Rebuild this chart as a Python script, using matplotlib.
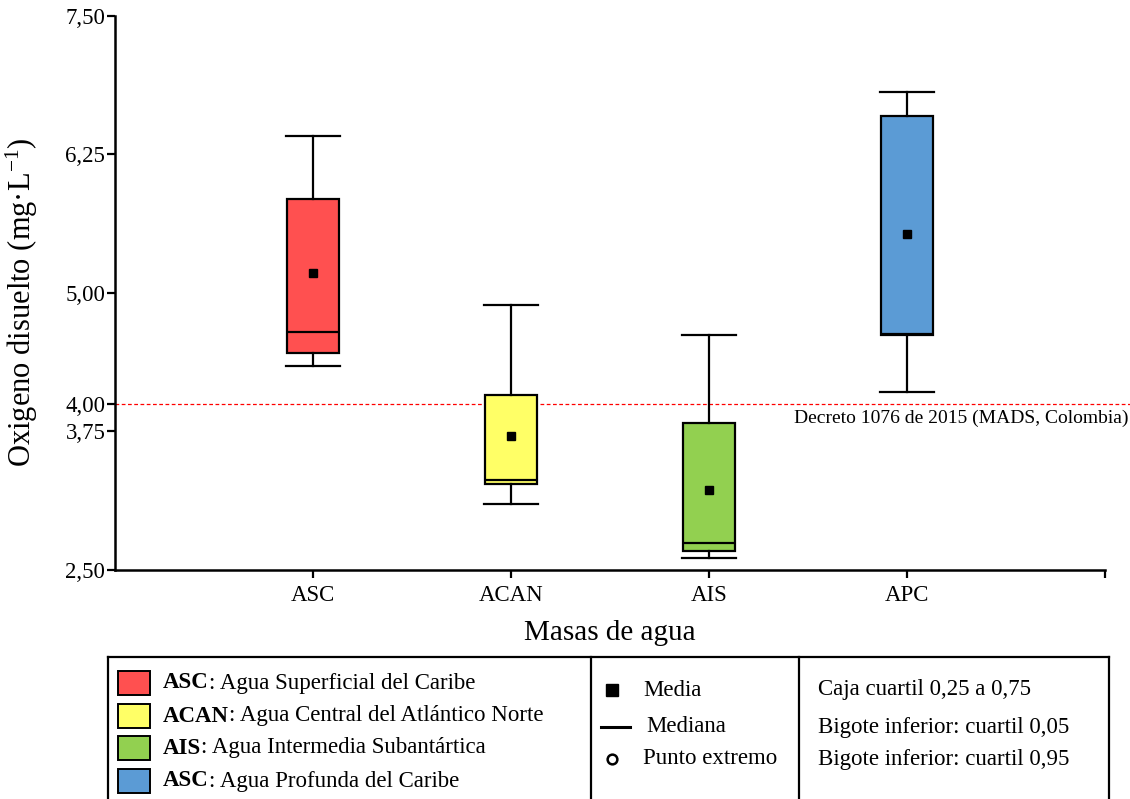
import matplotlib
matplotlib.use("Agg")
import matplotlib.pyplot as plt
from matplotlib.patches import Rectangle
from matplotlib.lines import Line2D

# ----------------------------
# Data
# ----------------------------
masses = ["ASC", "ACAN", "AIS", "APC"]
q05 = [4.34, 3.10, 2.61, 4.11]
q25 = [4.46, 3.28, 2.67, 4.62]
medians = [4.65, 3.31, 2.74, 4.63]
means = [5.18, 3.71, 3.22, 5.53]
q75 = [5.85, 4.08, 3.83, 6.60]
q95 = [6.42, 4.89, 4.62, 6.81]
colors = ["#FF5050", "#FFFF66", "#92D050", "#5B9BD5"]

yticks = [2.50, 3.75, 4.00, 5.00, 6.25, 7.50]
ytick_labels = ["2,50", "3,75", "4,00", "5,00", "6,25", "7,50"]
threshold = 4.0
threshold_label = "Decreto 1076 de 2015 (MADS, Colombia)"

legend_names = [
    ("ASC", ": Agua Superficial del Caribe"),
    ("ACAN", ": Agua Central del Atlántico Norte"),
    ("AIS", ": Agua Intermedia Subantártica"),
    ("ASC", ": Agua Profunda del Caribe"),
]
legend_marks = ["Media", "Mediana", "Punto extremo"]
legend_notes = ["Caja cuartil 0,25 a 0,75",
                "Bigote inferior: cuartil 0,05",
                "Bigote inferior: cuartil 0,95"]

# ----------------------------
# Style
# ----------------------------
plt.rcParams["font.family"] = "Liberation Serif"
plt.rcParams["mathtext.fontset"] = "custom"
plt.rcParams["mathtext.rm"] = "Liberation Serif"
plt.rcParams["mathtext.it"] = "Liberation Serif:italic"

W, H = 1130, 799
fig = plt.figure(figsize=(W / 100, H / 100), dpi=100)


def fx(x):
    return x / W


def fy(y):
    return 1 - y / H


ax = fig.add_axes([fx(115), fy(570), fx(1105) - fx(115), fy(16) - fy(570)])

stats = []
for i, name in enumerate(masses):
    stats.append({
        "label": name,
        "whislo": q05[i],
        "q1": q25[i],
        "med": medians[i],
        "q3": q75[i],
        "whishi": q95[i],
        "mean": means[i],
        "fliers": [],
    })

positions = list(range(1, len(masses) + 1))
bp = ax.bxp(
    stats,
    positions=positions,
    widths=0.26,
    patch_artist=True,
    showmeans=True,
    showfliers=False,
    boxprops=dict(linewidth=1.6, edgecolor="black"),
    medianprops=dict(color="black", linewidth=1.6),
    whiskerprops=dict(color="black", linewidth=1.6),
    capprops=dict(color="black", linewidth=1.6),
    capwidths=0.27,
    meanprops=dict(marker="s", markerfacecolor="black", markeredgecolor="black", markersize=6),
)
for patch, c in zip(bp["boxes"], colors):
    patch.set_facecolor(c)

# reference line
ax.plot([0, 5.13], [threshold, threshold], color="red", linestyle=(0, (3, 2)),
        linewidth=0.9, clip_on=False, zorder=1)
ax.text(5.12, threshold - 0.05, threshold_label, ha="right", va="top", fontsize=14)

ax.set_xlim(0, 5)
ax.set_ylim(2.5, 7.5)
ax.set_xticks([1, 2, 3, 4, 5])
ax.set_xticklabels(masses + [""], fontsize=16.5)
ax.set_yticks(yticks)
ax.set_yticklabels(ytick_labels, fontsize=16.5)
ax.tick_params(axis="both", direction="out", length=6, width=1.6, pad=5)
ax.tick_params(axis="y", pad=1)
for s in ["top", "right"]:
    ax.spines[s].set_visible(False)
for s in ["left", "bottom"]:
    ax.spines[s].set_linewidth(1.8)

ax.set_xlabel("Masas de agua", fontsize=21, labelpad=10)
fig.text(fx(22), fy(302), "Oxigeno disuelto (mg·L$^{-1}$)", rotation=90,
         ha="center", va="center", fontsize=22)

# ----------------------------
# Legend box at the bottom
# ----------------------------
lw = 1.6
top, bottom = 657, 800
for x0, x1, y0, y1 in [(108, 1109, top, top), (108, 108, top, bottom),
                       (1109, 1109, top, bottom), (591, 591, top, bottom),
                       (799, 799, top, bottom)]:
    fig.add_artist(Line2D([fx(x0), fx(x1)], [fy(y0), fy(y1)], color="black", linewidth=lw))

row_y = [683, 716, 748, 781]
for (abbr, rest), c, y in zip(legend_names, colors, row_y):
    fig.add_artist(Rectangle((fx(118), fy(y + 12)), fx(32), 24 / H, facecolor=c,
                             edgecolor="black", linewidth=1.4))
    t = fig.text(fx(163), fy(y), abbr, fontsize=16.5, fontweight="bold", va="center")
    fig.canvas.draw()
    bb = t.get_window_extent()
    fig.text(bb.x1 / W, fy(y), rest, fontsize=16.5, va="center")

mark_y = [690, 727, 759]
fig.add_artist(Line2D([fx(612)], [fy(mark_y[0])], marker="s", color="black", markersize=8))
fig.add_artist(Line2D([fx(601), fx(630)], [fy(mark_y[1]), fy(mark_y[1])], color="black", linewidth=2.2))
fig.add_artist(Line2D([fx(612)], [fy(mark_y[2])], marker="o", markerfacecolor="white",
                      markeredgecolor="black", markeredgewidth=1.8, markersize=7))
for txt, y, x in zip(legend_marks, mark_y, [643, 646, 643]):
    fig.text(fx(x), fy(y), txt, fontsize=16.5, va="center")

for txt, y in zip(legend_notes, mark_y):
    fig.text(fx(818), fy(y), txt, fontsize=16.5, va="center")

fig.savefig("out.png", dpi=100)
